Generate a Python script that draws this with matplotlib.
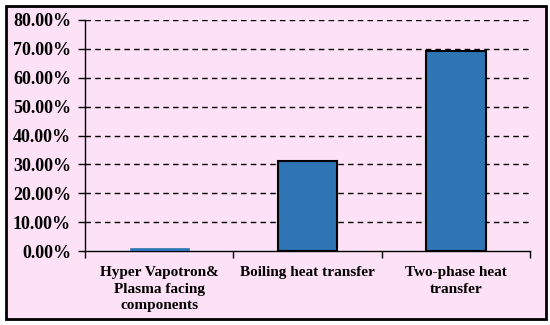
import matplotlib
matplotlib.use('Agg')
import matplotlib.pyplot as plt
from matplotlib.patches import Rectangle
import numpy as np

# categories and shares
categories = ['Hyper Vapotron&\nPlasma facing\ncomponents',
              'Boiling heat transfer',
              'Two-phase heat\ntransfer']
shares = [1.0, 31.2, 69.2]
yticks = [0, 10, 20, 30, 40, 50, 60, 70, 80]

plt.rcParams['font.family'] = ['Liberation Serif', 'DejaVu Serif']
plt.rcParams['font.weight'] = 'bold'

pink = '#fde1f6'
fig = plt.figure(figsize=(5.5, 3.25), dpi=100)
fig.patch.set_facecolor('white')

# outer frame of the chart
fig.patches.append(Rectangle((6/550, 6/325), 540/550, 313/325, transform=fig.transFigure,
                             facecolor=pink, edgecolor='black', linewidth=2, zorder=-10))

ax = fig.add_axes([85/550, 74/325, 445/550, 231/325])
ax.set_facecolor('none')
ax.set_zorder(1)

x = np.arange(len(categories))
# the tiny first bar shows no outline in the original
ax.bar(x, shares, width=0.4, color='#2e75b6', edgecolor=['#2e75b6', 'black', 'black'],
       linewidth=[0.5, 1.5, 1.5], zorder=3)

for v in yticks[1:]:
    ax.axhline(v, color='black', linestyle=(0, (4, 3)), linewidth=1, zorder=1)

ax.set_ylim(0, 80)
ax.set_xlim(-0.5, 2.5)
ax.set_yticks(yticks)
ax.set_yticklabels(['%.2f%%' % v for v in yticks], fontsize=13, fontweight='bold')
ax.set_xticks(x)
ax.set_xticklabels(categories, fontsize=11, fontweight='bold', linespacing=1.35)
ax.tick_params(axis='x', length=0, pad=11)
ax.tick_params(axis='y', length=5, width=1, direction='out', pad=5)
# category boundary ticks
ax.set_xticks([-0.5, 0.5, 1.5, 2.5], minor=True)
ax.tick_params(axis='x', which='minor', length=5, width=1, direction='out')

for s in ['top', 'right']:
    ax.spines[s].set_visible(False)
for s in ['left', 'bottom']:
    ax.spines[s].set_linewidth(1)

fig.savefig('out.png', dpi=100)
